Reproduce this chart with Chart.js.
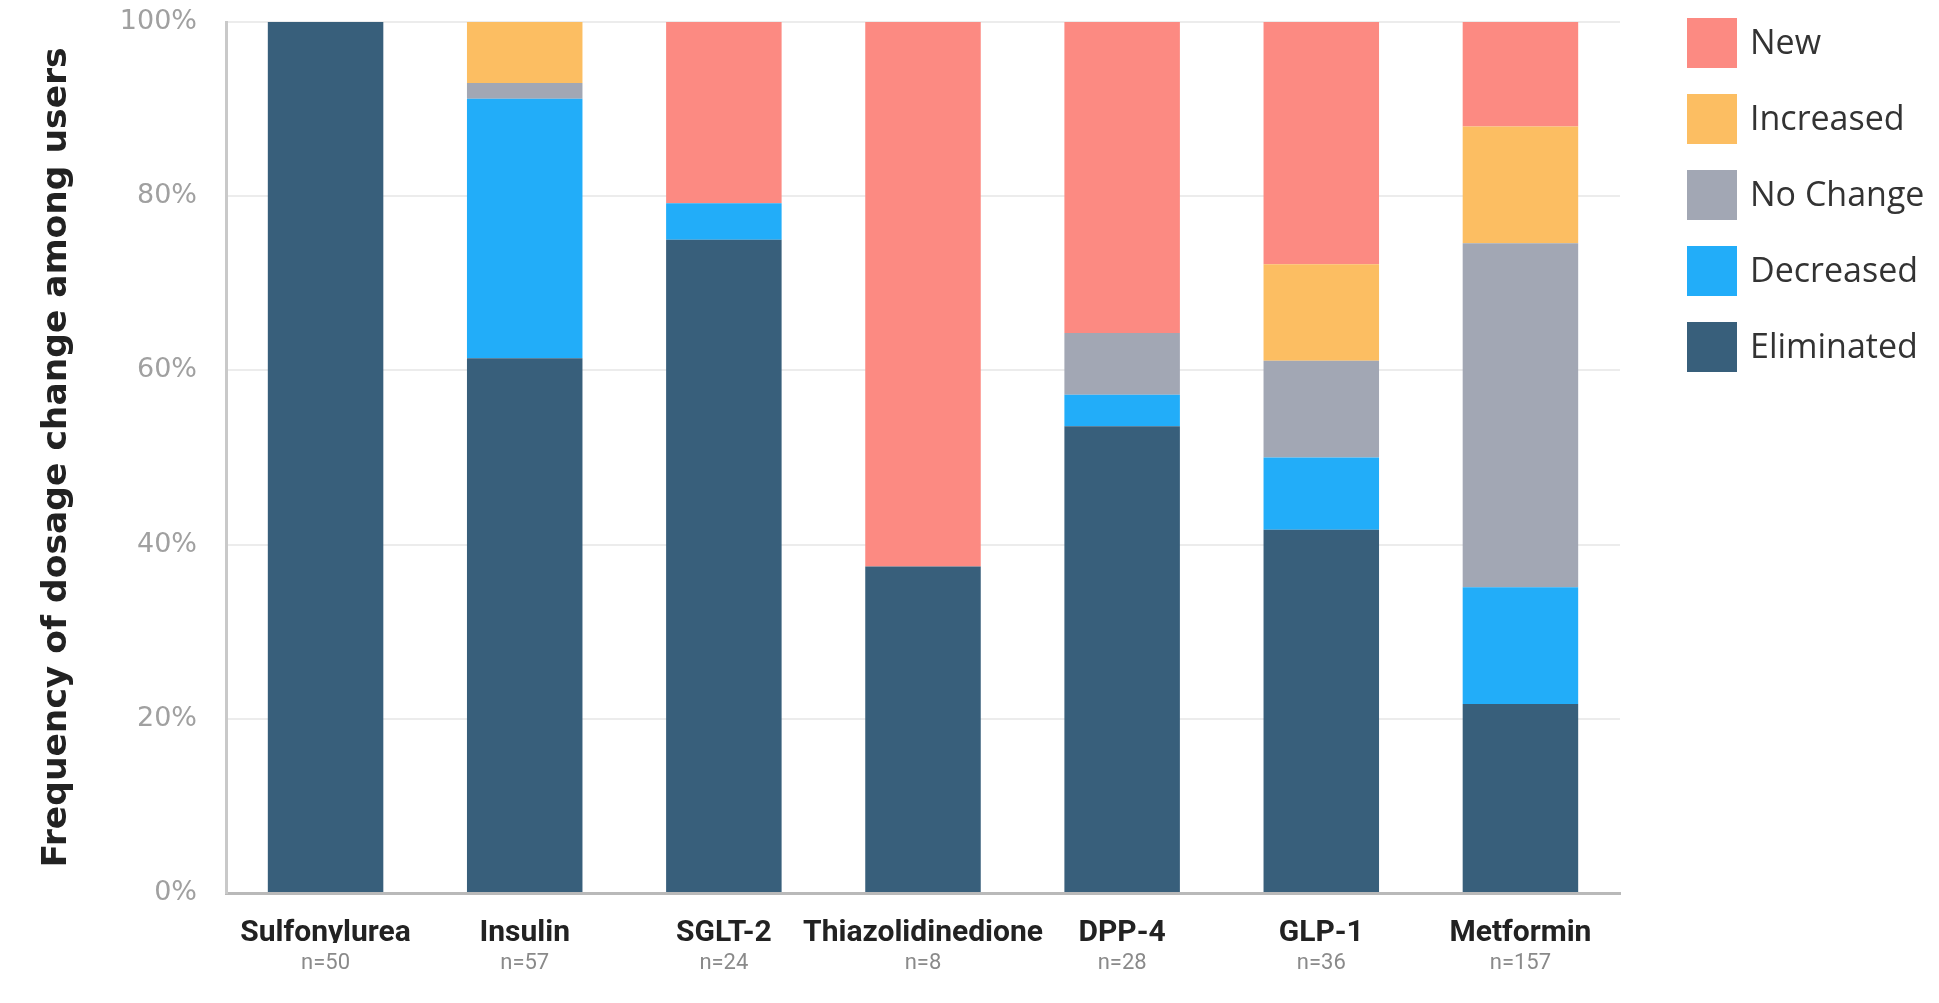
<!DOCTYPE html>
<html>
<head>
<meta charset="utf-8">
<title>Dosage change by drug class</title>
<script src="https://cdn.jsdelivr.net/npm/chart.js@4.4.1/dist/chart.umd.min.js"></script>
<style>
  html, body { margin: 0; padding: 0; background: #ffffff; }
  #chart { display: block; }
</style>
</head>
<body>
<canvas id="chart" width="1939" height="1003"></canvas>
<script>
// Drug classes and number of users in each
const categories = ['Sulfonylurea', 'Insulin', 'SGLT-2', 'Thiazolidinedione', 'DPP-4', 'GLP-1', 'Metformin'];
const sampleSizes = ['n=50', 'n=57', 'n=24', 'n=8', 'n=28', 'n=36', 'n=157'];

// Share of users (%) by type of dosage change, stacked bottom to top
const eliminated = [100, 61.4, 75.0, 37.5, 53.6, 41.7, 21.7];
const decreased  = [0, 29.8, 4.2, 0, 3.6, 8.3, 13.4];
const noChange   = [0, 1.8, 0, 0, 7.1, 11.1, 39.5];
const increased  = [0, 7.0, 0, 0, 0, 11.1, 13.4];
const newUse     = [0, 0, 20.8, 62.5, 35.7, 27.8, 12.0];

const yTicks = [0, 20, 40, 60, 80, 100];
const yTitle = 'Frequency of dosage change among users';

const seriesColors = {
  eliminated: '#385f7b',
  decreased: '#22adf9',
  noChange: '#a2a7b4',
  increased: '#fcbe62',
  newUse: '#fc8a82'
};

const datasets = [
  { label: 'Eliminated', data: eliminated, backgroundColor: seriesColors.eliminated },
  { label: 'Decreased',  data: decreased,  backgroundColor: seriesColors.decreased },
  { label: 'No Change',  data: noChange,   backgroundColor: seriesColors.noChange },
  { label: 'Increased',  data: increased,  backgroundColor: seriesColors.increased },
  { label: 'New',        data: newUse,     backgroundColor: seriesColors.newUse }
];

// Legend on the right, listed top series first
const sideLegend = {
  id: 'sideLegend',
  afterDraw(chart) {
    const ctx = chart.ctx;
    const boxX = 1687, boxSize = 50, firstCenter = 43, step = 76, textX = 1750;
    ctx.save();
    ctx.font = '34px "Open Sans", sans-serif';
    ctx.textBaseline = 'middle';
    ctx.textAlign = 'left';
    const items = chart.data.datasets.slice().reverse();
    items.forEach((ds, i) => {
      const cy = firstCenter + i * step;
      ctx.fillStyle = ds.backgroundColor;
      ctx.fillRect(boxX, cy - boxSize / 2, boxSize, boxSize);
      ctx.fillStyle = '#333333';
      ctx.fillText(ds.label, textX, cy + 1);
    });
    ctx.restore();
  }
};

new Chart(document.getElementById('chart'), {
  type: 'bar',
  data: { labels: categories, datasets },
  options: {
    responsive: false,
    animation: false,
    layout: { padding: { left: 0, right: 319, top: 22, bottom: 0 } },
    datasets: {
      bar: { categoryPercentage: 1.0, barPercentage: 0.58, borderWidth: 0 }
    },
    plugins: {
      legend: { display: false },
      tooltip: { enabled: false }
    },
    scales: {
      x: {
        stacked: true,
        grid: { display: false, drawTicks: false },
        border: { display: true, color: '#b9b9b9', width: 3 },
        ticks: {
          color: '#222222',
          padding: 22,
          autoSkip: false,
          maxRotation: 0,
          minRotation: 0,
          font: { family: 'Roboto, sans-serif', size: 30, weight: 'bold' }
        },
        afterFit: s => { s.height = 50; }
      },
      x2: {
        type: 'category',
        labels: sampleSizes,
        position: 'bottom',
        offset: true,
        grid: { display: false, drawTicks: false },
        border: { display: false },
        ticks: {
          color: '#8a8a8a',
          padding: 7,
          autoSkip: false,
          maxRotation: 0,
          minRotation: 0,
          font: { family: 'Roboto, sans-serif', size: 22 }
        },
        afterFit: s => { s.height = 60; }
      },
      y: {
        stacked: true,
        min: 0,
        max: 100,
        afterBuildTicks: s => { s.ticks = yTicks.map(v => ({ value: v })); },
        grid: { color: '#ececec', lineWidth: 2, drawTicks: false },
        border: { display: true, color: '#c9c9c9', width: 3 },
        ticks: {
          color: '#a0a0a0',
          padding: 29,
          font: { family: '"DejaVu Sans", sans-serif', size: 27 },
          callback: v => v + '%'
        },
        title: {
          display: true,
          text: yTitle,
          color: '#222222',
          padding: { top: 36, bottom: 0 },
          font: { family: '"DejaVu Sans", sans-serif', size: 34.5, weight: 'bold' }
        },
        afterFit: s => {
          s.width = 226;
          s.paddingTop = 0;
          s.paddingBottom = 0;
        }
      }
    }
  },
  plugins: [sideLegend]
});
</script>
</body>
</html>
